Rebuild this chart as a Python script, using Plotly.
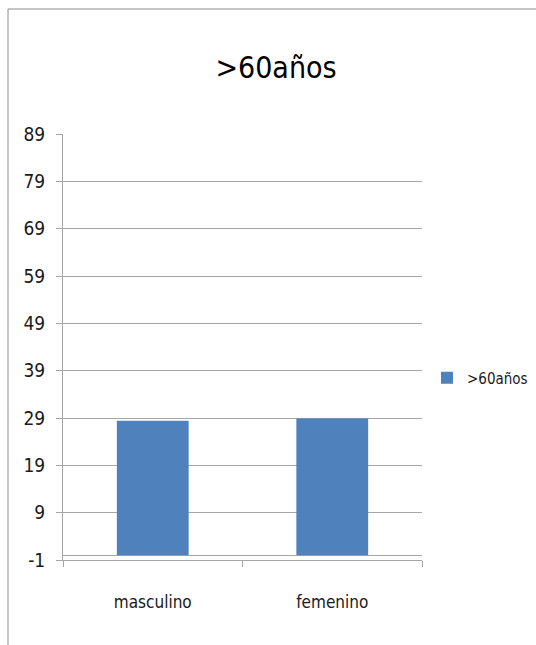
import plotly.graph_objects as go

# Datos del gráfico
categorias = ["masculino", "femenino"]
valores = [28.4, 28.9]
serie = ">60años"
ticks_y = [-1, 9, 19, 29, 39, 49, 59, 69, 79, 89]
etiquetas_y = [str(v) for v in ticks_y]

FUENTE = "DejaVu Sans Condensed, Liberation Sans Narrow, Liberation Sans, sans-serif"
GRIS = "#a6a6a6"

fig = go.Figure()
fig.add_trace(go.Bar(
    x=categorias,
    y=valores,
    name=serie,
    marker=dict(color="#4f81bd", line=dict(width=0)),
    width=0.4,
    showlegend=True,
))

fig.update_layout(
    width=536,
    height=645,
    margin=dict(l=63, r=114, t=134, b=85, autoexpand=False),
    paper_bgcolor="white",
    plot_bgcolor="white",
    font=dict(family=FUENTE, color="#1a1a1a"),
    title=dict(
        text=serie,
        x=276 / 536, xref="container", xanchor="center",
        y=1 - 67 / 645, yanchor="middle",
        font=dict(family=FUENTE, size=30, color="#000000"),
    ),
    legend=dict(
        x=427 / 536, xref="container", xanchor="left",
        y=1 - 378 / 645, yref="container", yanchor="middle",
        font=dict(family=FUENTE, size=15, color="#1a1a1a"),
        bgcolor="rgba(0,0,0,0)",
        itemwidth=30,
    ),
    xaxis=dict(
        type="category",
        showline=True, linecolor=GRIS, linewidth=1,
        ticks="outside", tickson="boundaries", ticklen=6, tickcolor=GRIS,
        tickfont=dict(family=FUENTE, size=17, color="#1a1a1a"),
        ticklabelstandoff=27,
        showgrid=False,
    ),
    yaxis=dict(
        range=[-1, 89],
        tickvals=ticks_y,
        ticktext=etiquetas_y,
        showline=True, linecolor=GRIS, linewidth=1,
        ticks="outside", ticklen=6, tickcolor=GRIS,
        ticklabelstandoff=7,
        showgrid=True, gridcolor=GRIS, gridwidth=1,
        zeroline=True, zerolinecolor=GRIS, zerolinewidth=1,
        tickfont=dict(family=FUENTE, size=19, color="#1a1a1a"),
    ),
    shapes=[dict(
        type="rect", xref="paper", yref="paper",
        x0=(8 - 63) / 359, x1=(545 - 63) / 359,
        y0=(560 - 655) / 426, y1=(560 - 9) / 426,
        line=dict(color="#8c8c8c", width=1),
        fillcolor="rgba(0,0,0,0)", layer="below",
    )],
)

fig.write_html("out.html")
